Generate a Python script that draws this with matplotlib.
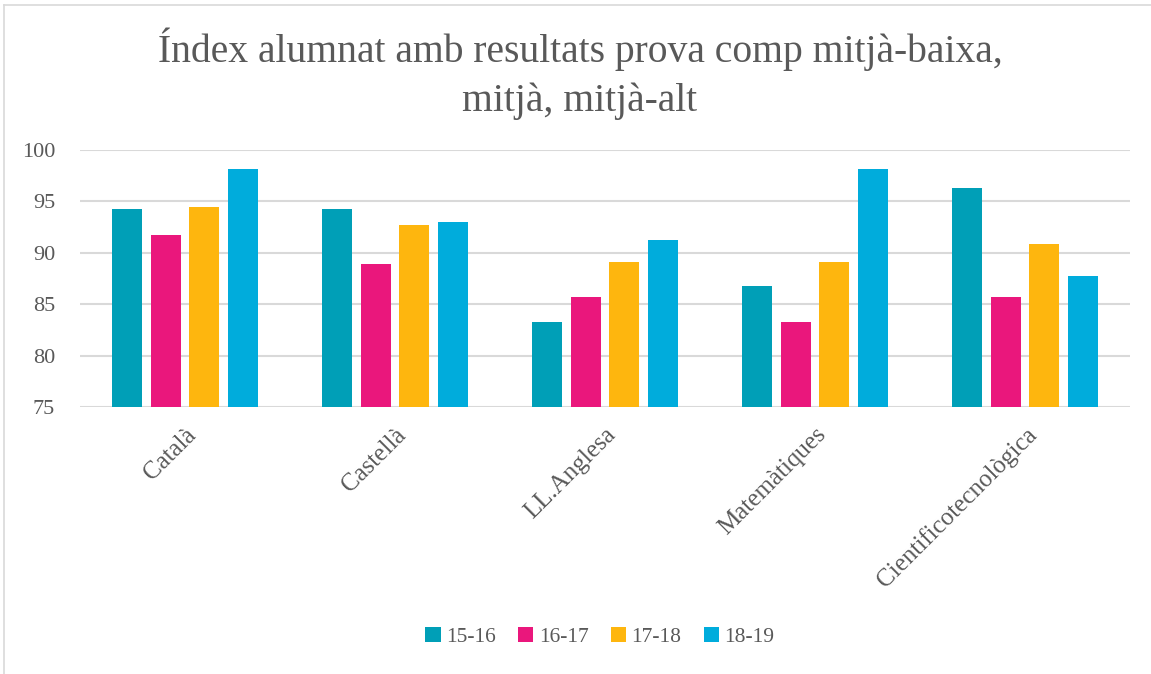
import numpy as np
import matplotlib
matplotlib.use("Agg")
import matplotlib.pyplot as plt
from matplotlib.lines import Line2D

categories = ["Català", "Castellà", "LL.Anglesa", "Matemàtiques", "Cientificotecnològica"]
series_names = ["15-16", "16-17", "17-18", "18-19"]
s_15_16 = [94.3, 94.3, 83.3, 86.8, 96.3]
s_16_17 = [91.7, 88.9, 85.7, 83.3, 85.7]
s_17_18 = [94.5, 92.7, 89.1, 89.1, 90.9]
s_18_19 = [98.2, 93.0, 91.2, 98.2, 87.7]
colors = ["#009fb7", "#ea177c", "#feb60e", "#00acdc"]

plt.rcParams['font.family'] = ['Liberation Serif', 'DejaVu Serif']
text_color = "#595959"

fig = plt.figure(figsize=(11.51, 6.74), dpi=100)
ax = fig.add_axes([80 / 1151, 1 - 407 / 674, 1050 / 1151, 257 / 674])

x = np.arange(len(categories))
width = 0.143
pitch = 0.184
all_series = [s_15_16, s_16_17, s_17_18, s_18_19]
for i, (vals, name, col) in enumerate(zip(all_series, series_names, colors)):
    offs = (i - 1.5) * pitch
    ax.bar(x + offs, np.array(vals) - 75, width, bottom=75, color=col, label=name, zorder=3)

ax.set_xlim(-0.5, len(categories) - 0.5)
ax.set_ylim(75, 100)
ax.set_yticks([75, 80, 85, 90, 95, 100])
ax.yaxis.grid(True, color="#d9d9d9", linewidth=1.5, zorder=0)
for s in ax.spines.values():
    s.set_visible(False)
ax.tick_params(axis='both', length=0, colors=text_color)
ax.tick_params(axis='y', pad=18, labelsize=16)
ax.set_xticks(x)
ax.set_xticklabels(categories, rotation=45, ha='right', va='top', fontsize=18,
                   rotation_mode='anchor', color=text_color)
ax.tick_params(axis='x', pad=12)

fig.text(580 / 1151, 1 - 74 / 674, "Índex alumnat amb resultats prova comp mitjà-baixa,\nmitjà, mitjà-alt",
         ha='center', va='center', fontsize=28.5, color=text_color, linespacing=1.4)

fig.legend(loc='center', bbox_to_anchor=(600 / 1151, 1 - 637 / 674), ncol=4, frameon=False,
           fontsize=15.5, handlelength=0.7, handleheight=0.7, handletextpad=0.25,
           columnspacing=1.05, labelcolor=text_color)

fig.add_artist(Line2D([4 / 1151, 4 / 1151], [0, 1 - 5 / 674], color="#d9d9d9", linewidth=1.2))
fig.add_artist(Line2D([4 / 1151, 1], [1 - 5 / 674, 1 - 5 / 674], color="#d9d9d9", linewidth=1.2))

fig.savefig("out.png", dpi=100)
